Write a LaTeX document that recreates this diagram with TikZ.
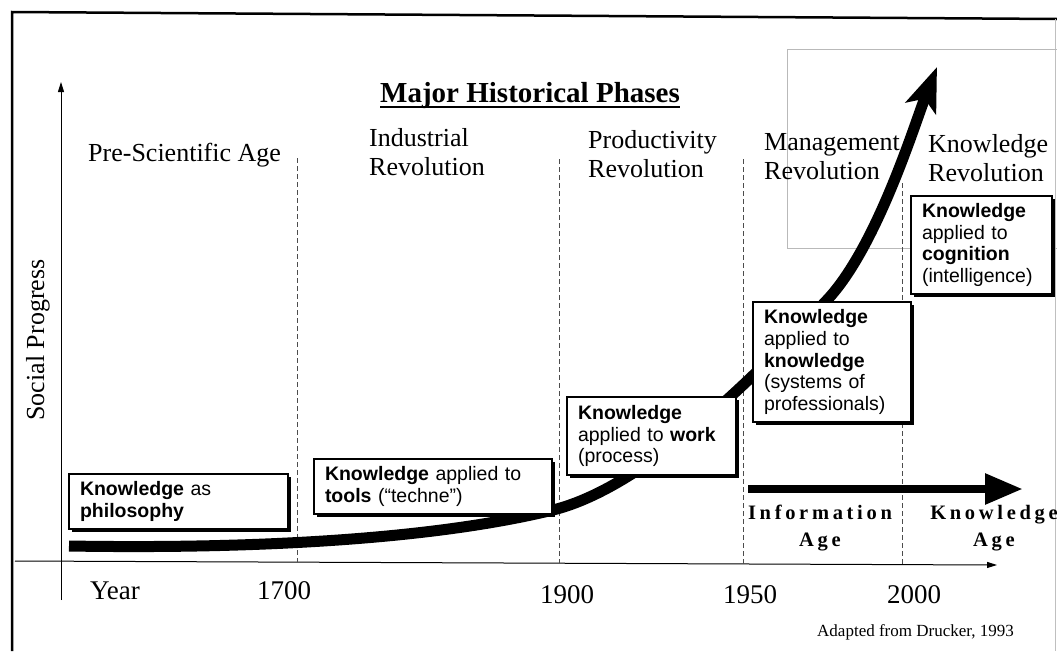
\documentclass[tikz,border=0pt]{standalone}
\usepackage{fontspec}
\setmainfont{Liberation Serif}
\newfontfamily\boxfont{Liberation Sans}
\newfontfamily\spacedfont[LetterSpace=18]{Liberation Serif}
\usetikzlibrary{arrows.meta,shadows}
\begin{document}
\begin{tikzpicture}[x=1pt,y=-1pt,
  phase/.style={anchor=base west, align=left, inner sep=0pt, font=\fontsize{26}{29}\selectfont},
  yearlabel/.style={anchor=base west, inner sep=0pt, font=\fontsize{27}{30}\selectfont},
  kbox/.style={draw, line width=1.2pt, fill=white, anchor=north west, align=left,
    inner ysep=0pt, inner xsep=11pt, outer sep=0pt,
    font=\boxfont\fontsize{19.5}{21.7}\selectfont,
    drop shadow={shadow xshift=3pt, shadow yshift=-3pt, opacity=1, fill=black}},
  agelabel/.style={align=center, inner sep=0pt, anchor=base, font=\spacedfont\bfseries\fontsize{20.5}{27}\selectfont},
  divider/.style={draw=black!70, line width=0.8pt, dash pattern=on 5pt off 3pt},
  axisline/.style={line width=1pt, -{Triangle[length=10pt,width=6pt]}},
]
\useasboundingbox (0,0) rectangle (1057,651);
\fill[white] (0,0) rectangle (1057,651);

% frame
\coordinate (fTL) at (12,12);
\coordinate (fTR) at (1057,19);
\coordinate (fBL) at (12,651);
\coordinate (fRT) at (1055,19);
\coordinate (fRB) at (1055,651);
\draw[line width=2.5pt] (fBL) -- (fTL) -- (fTR);
\draw[gray!50, line width=0.6pt] (fRT) -- (fRB);

% light rectangle
\coordinate (rA) at (787,49);
\coordinate (rB) at (1060,248);
\draw[gray!55, line width=0.7pt] (rA) rectangle (rB);

% axes
\coordinate (yA) at (61,600);
\coordinate (yB) at (61,82);
\coordinate (xA) at (15,561);
\coordinate (xB) at (997,565);
\draw[axisline] (yA) -- (yB);
\draw[axisline] (xA) -- (xB);

% dividers
\coordinate (d1t) at (297,158); \coordinate (d1b) at (297,562);
\coordinate (d2t) at (559,159); \coordinate (d2b) at (559,563);
\coordinate (d3t) at (743,159); \coordinate (d3b) at (743,564);
\coordinate (d4t) at (902,183); \coordinate (d4b) at (902,565);
\draw[divider] (d1t) -- (d1b);
\draw[divider] (d2t) -- (d2b);
\draw[divider] (d3t) -- (d3b);
\draw[divider] (d4t) -- (d4b);

% title
\node[font=\bfseries\fontsize{29}{34}\selectfont, anchor=base, inner sep=0pt] (title) at (530,102) {Major Historical Phases};
\draw[line width=2pt] ([yshift=-5pt]title.base west) -- ([yshift=-5pt]title.base east);

% phase labels (anchor = baseline of last line)
\node[phase] (pre) at (88,161) {Pre-Scientific Age};
\node[phase] (ind) at (369,175) {Industrial\\Revolution};
\node[phase] (prod) at (588,177) {Productivity\\Revolution};
\node[phase] (mgmt) at (764,179) {Management\\Revolution};
\node[phase] (krev) at (928,181) {Knowledge\\Revolution};

% axis label
\node[rotate=90, font=\fontsize{26}{29}\selectfont, inner sep=0pt] (sp) at (38,340) {Social Progress};

% growth curve
\coordinate (c1) at (69,546);
\coordinate (c4) at (553,510);
\coordinate (c7) at (827,300);
\coordinate (c11) at (937,67);
\draw[line width=11pt, -{Stealth[length=44pt,width=32pt,inset=10pt]}]
  (c1) .. controls (250,549) and (430,540) .. (c4)
       .. controls (650,486) and (767,364) .. (c7)
       .. controls (877,247) and (915,123) .. (c11);

% boxes
\node[kbox, text width=197pt, minimum height=55pt] (b1) at (69,474)
  {\textbf{Knowledge} as\\\textbf{philosophy}};
\node[kbox, text width=216pt, minimum height=55pt] (b2) at (314,459)
  {\textbf{Knowledge} applied to\\\textbf{tools} (“techne”)};
\node[kbox, text width=147pt, minimum height=78pt] (b3) at (567,397)
  {\textbf{Knowledge}\\applied to \textbf{work}\\(process)};
\node[kbox, text width=136pt, minimum height=120pt] (b4) at (753,302)
  {\textbf{Knowledge}\\applied to\\\textbf{knowledge}\\(systems of\\professionals)};
\node[kbox, text width=119pt, minimum height=98pt] (b5) at (911,196)
  {\textbf{Knowledge}\\applied to\\\textbf{cognition}\\(intelligence)};

% information age arrow
\coordinate (ia0) at (748,489);
\coordinate (ia1) at (1023,489);
\draw[line width=8.5pt, -{Triangle[length=38pt,width=29pt]}] (ia0) -- (ia1);
\node[agelabel] (iage) at (820,546) {Information\\Age};
\node[agelabel] (kage) at (994,546) {Knowledge\\Age};

% years
\node[yearlabel] (yr) at (90,599) {Year};
\node[yearlabel] (y1700) at (257,599) {1700};
\node[yearlabel] (y1900) at (540,603) {1900};
\node[yearlabel] (y1950) at (723,603) {1950};
\node[yearlabel] (y2000) at (887,603) {2000};

% source
\node[anchor=base west, font=\fontsize{17}{20}\selectfont, inner sep=0pt] (src) at (817,636) {Adapted from Drucker, 1993};
\end{tikzpicture}
\end{document}
